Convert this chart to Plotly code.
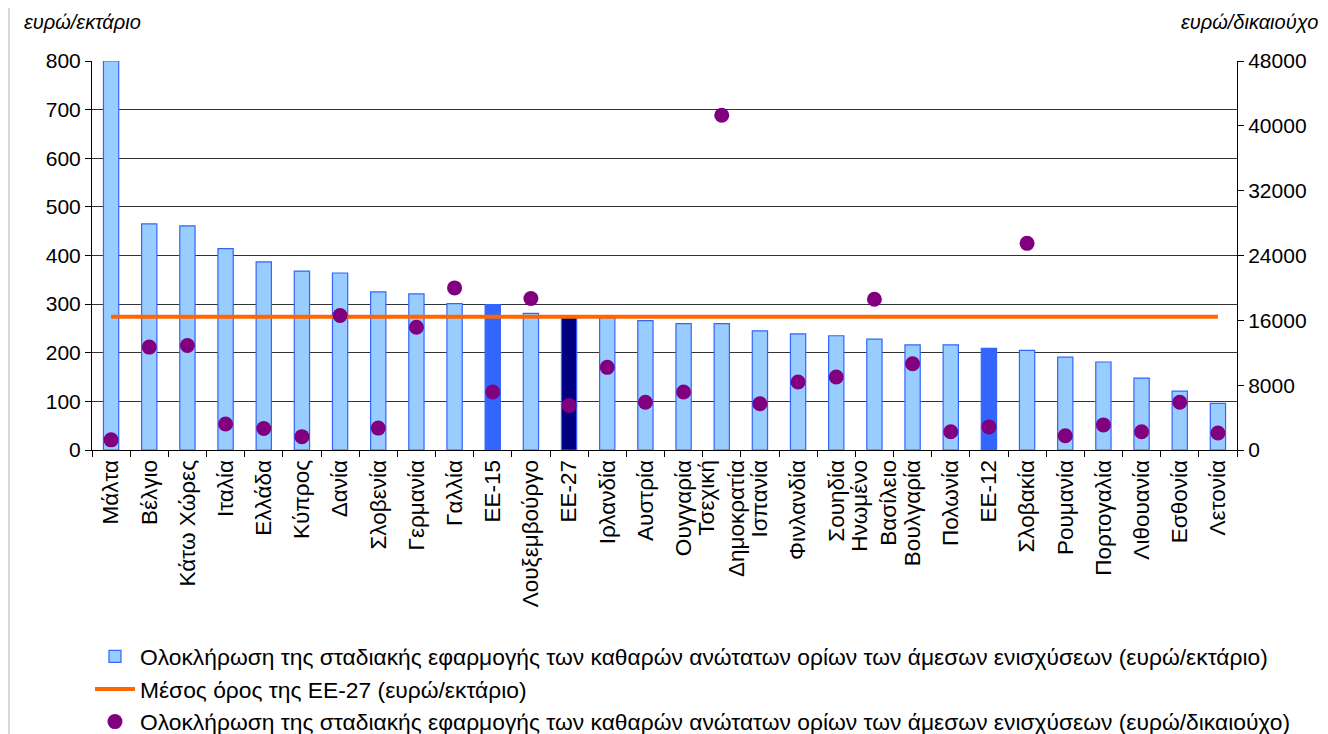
import plotly.graph_objects as go

categories = ["Μάλτα", "Βέλγιο", "Κάτω Χώρες", "Ιταλία", "Ελλάδα", "Κύπρος", "Δανία",
              "Σλοβενία", "Γερμανία", "Γαλλία", "ΕΕ-15", "Λουξεμβούργο", "ΕΕ-27",
              "Ιρλανδία", "Αυστρία", "Ουγγαρία", "Τσεχική<br>Δημοκρατία", "Ισπανία",
              "Φινλανδία", "Σουηδία", "Ηνωμένο<br>Βασίλειο", "Βουλγαρία", "Πολωνία",
              "ΕΕ-12", "Σλοβακία", "Ρουμανία", "Πορτογαλία", "Λιθουανία", "Εσθονία", "Λετονία"]

per_hectare = [800, 465, 461, 414, 387, 368, 364, 325, 321, 301, 299, 281, 273,
               272, 266, 260, 260, 245, 239, 235, 228, 216, 216, 209, 205, 191,
               181, 148, 121, 96]

per_beneficiary = [1250, 12700, 12900, 3200, 2650, 1650, 16600, 2700, 15150, 20000,
                   7150, 18700, 5500, 10200, 5900, 7150, 41300, 5700, 8400, 9000,
                   18600, 10650, 2250, 2850, 25500, 1750, 3100, 2250, 5900, 2100]

eu27_average = [274] * len(categories)

bar_colors = []
for c in categories:
    if c in ("ΕΕ-15", "ΕΕ-12"):
        bar_colors.append("#3366FF")
    elif c == "ΕΕ-27":
        bar_colors.append("#000080")
    else:
        bar_colors.append("#99CCFF")

FONT = "Liberation Sans, Arial, sans-serif"

fig = go.Figure()
fig.add_trace(go.Bar(
    x=categories, y=per_hectare, width=0.4,
    marker=dict(color=bar_colors, line=dict(color="#3366FF", width=1.2)),
    name="Ολοκλήρωση της σταδιακής εφαρμογής των καθαρών ανώτατων ορίων των άμεσων ενισχύσεων (ευρώ/εκτάριο)",
))
fig.add_trace(go.Scatter(
    x=categories, y=eu27_average, mode="lines",
    line=dict(color="#FF6600", width=4),
    name="Μέσος όρος της ΕΕ-27 (ευρώ/εκτάριο)",
))
fig.add_trace(go.Scatter(
    x=categories, y=per_beneficiary, mode="markers", yaxis="y2",
    marker=dict(color="#800080", size=15),
    name="Ολοκλήρωση της σταδιακής εφαρμογής των καθαρών ανώτατων ορίων των άμεσων ενισχύσεων (ευρώ/δικαιούχο)",
))

fig.update_layout(
    width=1320, height=726,
    margin=dict(l=84, r=91, t=53, b=284, autoexpand=False),
    paper_bgcolor="white", plot_bgcolor="white",
    font=dict(family=FONT, size=21, color="black"),
    showlegend=True,
    legend=dict(orientation="v", xref="container", yref="container",
                x=0.0621, xanchor="left", y=0.1364, yanchor="top",
                font=dict(size=22.8), bgcolor="rgba(0,0,0,0)", itemwidth=40,
                tracegroupgap=0),
    xaxis=dict(
        range=[-0.5, len(categories) - 0.5], automargin=False,
        tickangle=-90, showline=True, linecolor="black", linewidth=1,
        ticks="outside", tickson="boundaries", ticklen=6, tickcolor="black",
        showgrid=False, tickfont=dict(size=22.5),
    ),
    yaxis=dict(
        range=[0, 800], dtick=100, automargin=False,
        showline=True, linecolor="black", linewidth=1,
        ticks="outside", ticklen=6, tickcolor="black",
        showgrid=True, gridcolor="#333333", gridwidth=1.3, zeroline=False,
        tickfont=dict(size=21),
    ),
    yaxis2=dict(
        range=[0, 48000], dtick=8000, tickformat="d", automargin=False,
        overlaying="y", side="right",
        showline=True, linecolor="black", linewidth=1,
        ticks="outside", ticklen=6, tickcolor="black", showgrid=False, zeroline=False,
        tickfont=dict(size=21),
    ),
    annotations=[
        dict(text="<i>ευρώ/εκτάριο</i>", xref="paper", yref="paper", x=-0.061, y=1.1,
             xanchor="left", yanchor="middle", showarrow=False, font=dict(size=20)),
        dict(text="<i>ευρώ/δικαιούχο</i>", xref="paper", yref="paper", x=1.0725, y=1.1,
             xanchor="right", yanchor="middle", showarrow=False, font=dict(size=20)),
    ],
    shapes=[
        dict(type="line", xref="paper", yref="paper", x0=-0.0725, x1=-0.0725,
             y0=-0.74, y1=1.16, line=dict(color="#d8d8cc", width=2)),
    ],
)

fig.write_html("out.html")
